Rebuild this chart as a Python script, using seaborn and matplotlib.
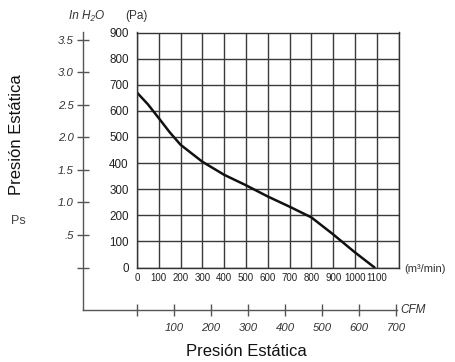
import pandas as pd
import seaborn as sns
import matplotlib.pyplot as plt

# Fan curve: flow (m3/min as labelled) vs static pressure (Pa)
flow_m3 = [0, 50, 100, 150, 200, 300, 400, 500, 600, 700, 800, 900, 1000, 1090]
pressure_pa = [670, 625, 572, 518, 470, 405, 355, 315, 272, 233, 192, 127, 58, 0]

pa_ticks = [0, 100, 200, 300, 400, 500, 600, 700, 800, 900]
flow_ticks = [0, 100, 200, 300, 400, 500, 600, 700, 800, 900, 1000, 1100, 1200]
flow_labels = ["0", "100", "200", "300", "400", "500", "600", "700", "800", "900", "1000", "1100", ""]
inh2o_ticks = [0, 0.5, 1.0, 1.5, 2.0, 2.5, 3.0, 3.5]
inh2o_labels = ["", ".5", "1.0", "1.5", "2.0", "2.5", "3.0", "3.5"]
cfm_ticks = [0, 100, 200, 300, 400, 500, 600, 700]
cfm_labels = ["", "100", "200", "300", "400", "500", "600", "700"]

PA_PER_INH2O = 249.09
M3_PER_CFM = 1.699

W, H = 455, 362


def rect(l, t, r, b):
    return [l / W, 1 - b / H, (r - l) / W, (b - t) / H]


sns.set_style("white")
plt.rcParams["font.family"] = ["Liberation Sans", "DejaVu Sans"]

fig = plt.figure(figsize=(W / 100, H / 100), dpi=100)

# main grid box (pixel edges)
L, T, R, B = 137, 32.5, 398.5, 267.5
sx = 1200 / (R - L)
sy = 900 / (B - T)

# outer axes carrying the inH2O and CFM scales
OL, OR, OB = 83, 397, 310
ax2 = fig.add_axes(rect(OL, T, OR, OB))
ax2.set_xlim(-(L - OL) * sx / M3_PER_CFM, (OR - L) * sx / M3_PER_CFM)
ax2.set_ylim(-(OB - B) * sy / PA_PER_INH2O, 900 / PA_PER_INH2O)
ax2.patch.set_visible(False)
for s in ["top", "right"]:
    ax2.spines[s].set_visible(False)
for s in ["left", "bottom"]:
    ax2.spines[s].set_color("#555555")
    ax2.spines[s].set_linewidth(1)
ax2.set_xticks(cfm_ticks)
ax2.set_xticklabels(cfm_labels, fontstyle="italic")
ax2.set_yticks(inh2o_ticks)
ax2.set_yticklabels(inh2o_labels, fontstyle="italic")
ax2.tick_params(bottom=True, left=True, direction="inout", length=9, width=1,
                color="#555555", labelsize=8.2, labelcolor="#333333")
ax2.tick_params(axis="x", pad=5)
ax2.tick_params(axis="y", pad=2)

# main axes with the grid and curve
ax = fig.add_axes(rect(L, T, R, B))
df = pd.DataFrame({"flow": flow_m3, "pressure": pressure_pa})
sns.lineplot(data=df, x="flow", y="pressure", ax=ax, color="#111111", linewidth=1.8)
ax.set_xlim(0, 1200)
ax.set_ylim(0, 900)
ax.set_xticks(flow_ticks)
ax.set_xticklabels(flow_labels, fontsize=7.0)
ax.set_yticks(pa_ticks)
ax.tick_params(axis="y", labelsize=8.4, pad=6)
ax.tick_params(axis="x", pad=4)
ax.tick_params(length=0, labelcolor="#222222")
ax.grid(True, color="#3a3a3a", linewidth=1)
for s in ax.spines.values():
    s.set_color("#333333")
    s.set_linewidth(1)
ax.set_xlabel("")
ax.set_ylabel("")

# texts
fig.text(87 / W, 1 - 16 / H, "In H\u2082O", fontsize=8.5, fontstyle="italic",
         color="#333333", ha="center", va="center")
fig.text(136 / W, 1 - 16 / H, "(Pa)", fontsize=8.5, color="#333333",
         ha="center", va="center")
fig.text(404 / W, 1 - 269 / H, "(m\u00b3/min)", fontsize=8, color="#333333",
         ha="left", va="center")
fig.text(400 / W, 1 - 310 / H, "CFM", fontsize=8.5, fontstyle="italic",
         color="#333333", ha="left", va="center")
fig.text(246 / W, 1 - 352 / H, "Presi\u00f3n Est\u00e1tica", fontsize=12,
         color="#111111", ha="center", va="center")
fig.text(17 / W, 1 - 135 / H, "Presi\u00f3n Est\u00e1tica", fontsize=12,
         color="#111111", ha="center", va="center", rotation=90)
fig.text(18 / W, 1 - 221 / H, "Ps", fontsize=9, color="#444444",
         ha="center", va="center")

fig.savefig("out.png", dpi=100)
